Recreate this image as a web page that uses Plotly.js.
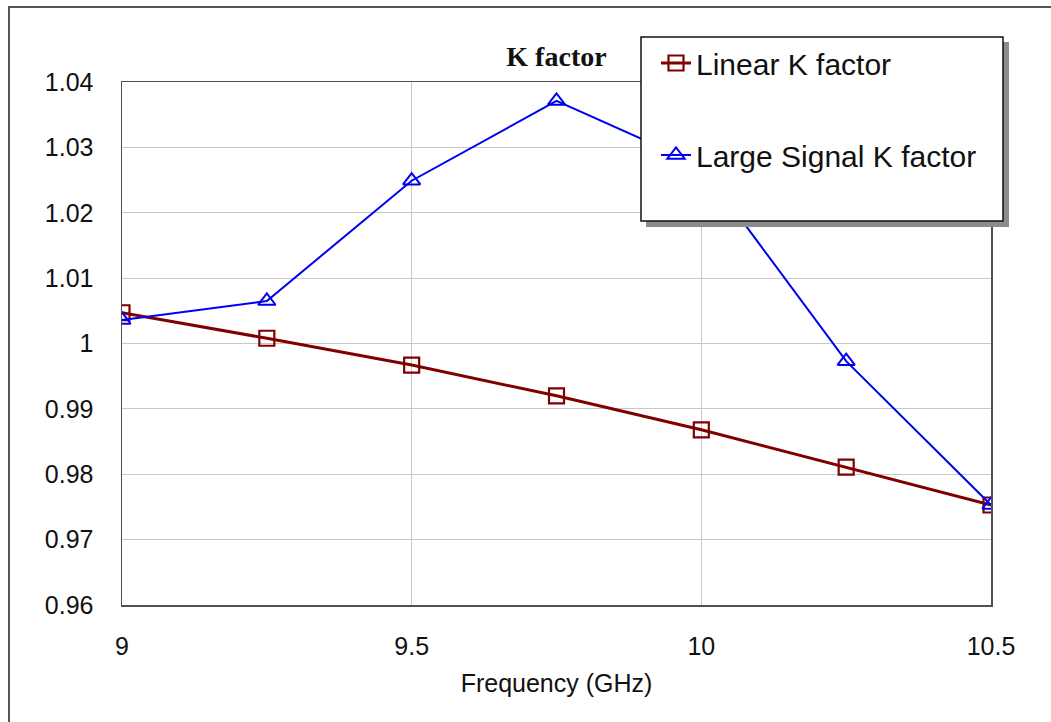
<!DOCTYPE html>
<html>
<head>
<meta charset="utf-8">
<script src="https://cdn.plot.ly/plotly-3.0.1.min.js"></script>
<style>html,body{margin:0;padding:0;background:#fff;}#chart{width:1051px;height:722px;}</style>
</head>
<body>
<div id="chart"></div>
<script>
// Data
const frequency = [9, 9.25, 9.5, 9.75, 10, 10.25, 10.5];
const linearK = [1.0047, 1.0008, 0.9967, 0.9920, 0.9868, 0.9811, 0.9753];
const largeSignalK = [1.0036, 1.0065, 1.0249, 1.0371, 1.0272, 0.9973, 0.9753];
const xTickVals = [9, 9.5, 10, 10.5];
const xTickText = ['9', '9.5', '10', '10.5'];
const yTickVals = [0.96, 0.97, 0.98, 0.99, 1.0, 1.01, 1.02, 1.03, 1.04];
const yTickText = ['0.96', '0.97', '0.98', '0.99', '1', '1.01', '1.02', '1.03', '1.04'];

const W = 1051, H = 722;
const M = {l: 122, r: 60, t: 82, b: 117};
const PW = W - M.l - M.r, PH = H - M.t - M.b;
const px = v => (v - M.l) / PW;
const py = v => (H - M.b - v) / PH;

const traces = [
  {
    x: frequency, y: linearK, name: 'Linear K factor', legendgroup: 'a',
    type: 'scatter', mode: 'lines+markers',
    line: {color: '#800000', width: 3},
    marker: {symbol: 'square-open', size: 15, color: '#800000', line: {width: 2.2, color: '#800000'}}
  },
  {
    x: frequency, y: largeSignalK, name: 'Large Signal K factor', legendgroup: 'b',
    type: 'scatter', mode: 'lines+markers',
    line: {color: '#0000f0', width: 2},
    marker: {symbol: 'triangle-up-open', size: 15, color: '#0000f0', line: {width: 2, color: '#0000f0'}}
  }
];

const layout = {
  width: W, height: H,
  margin: M,
  paper_bgcolor: '#fff', plot_bgcolor: '#fff',
  font: {family: 'Arial, Liberation Sans, sans-serif', color: '#111'},
  title: {
    text: '<b>K factor</b>',
    font: {family: 'Times New Roman, Liberation Serif, serif', size: 28, color: '#111'},
    xref: 'paper', x: 0.5, xanchor: 'center',
    yref: 'container', y: 1 - 56 / H, yanchor: 'middle'
  },
  xaxis: {
    range: [9, 10.5], tickvals: xTickVals, ticktext: xTickText,
    showgrid: true, gridcolor: '#c8c8c8', gridwidth: 1,
    showline: true, mirror: true, linecolor: '#505050', linewidth: 1.5,
    zeroline: false, ticks: '', ticklabelstandoff: 18,
    tickfont: {size: 25, color: '#111'},
    title: {text: 'Frequency (GHz)', font: {size: 25, color: '#111'}, standoff: 16}
  },
  yaxis: {
    range: [0.96, 1.04], tickvals: yTickVals, ticktext: yTickText,
    showgrid: true, gridcolor: '#c8c8c8', gridwidth: 1,
    showline: true, mirror: true, linecolor: '#505050', linewidth: 1.5,
    zeroline: false, ticks: '', ticklabelstandoff: 22,
    tickfont: {size: 25, color: '#111'}
  },
  showlegend: true,
  legend: {
    x: px(656), y: py(37), xanchor: 'left', yanchor: 'top',
    xref: 'paper', yref: 'paper',
    bgcolor: 'rgba(0,0,0,0)', borderwidth: 0,
    font: {size: 30, color: '#111'},
    traceorder: 'grouped', tracegroupgap: 50, valign: 'middle'
  },
  shapes: [
    {type: 'rect', xref: 'paper', yref: 'paper', layer: 'above',
     x0: px(9), x1: px(1080), y0: py(7), y1: py(760),
     line: {color: '#555', width: 2}, fillcolor: 'rgba(0,0,0,0)'},
    {type: 'rect', xref: 'paper', yref: 'paper', layer: 'above',
     x0: px(646), x1: px(1009), y0: py(42), y1: py(227),
     line: {width: 0}, fillcolor: '#8c8c8c'},
    {type: 'rect', xref: 'paper', yref: 'paper', layer: 'above',
     x0: px(641), x1: px(1003), y0: py(37), y1: py(221),
     line: {color: '#111', width: 1.5}, fillcolor: '#fff'}
  ]
};

Plotly.newPlot('chart', traces, layout, {displayModeBar: false, staticPlot: true});
</script>
</body>
</html>
